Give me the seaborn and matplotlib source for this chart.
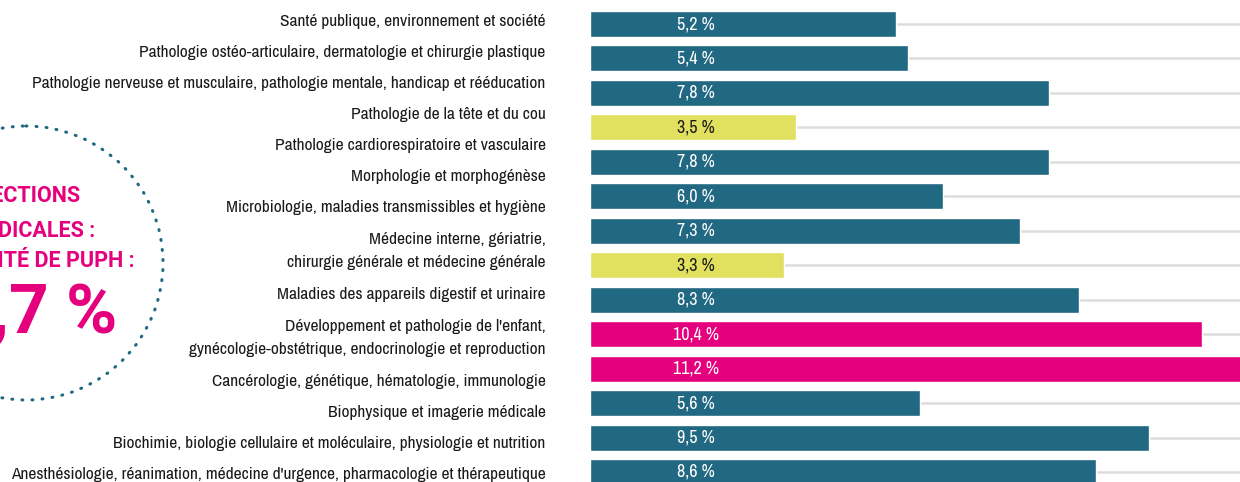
import matplotlib
matplotlib.use("Agg")
import matplotlib.pyplot as plt
import seaborn as sns
import pandas as pd
from matplotlib.patches import Circle
from matplotlib import font_manager as fm

sns.set_theme(style="white")
names = {f.name for f in fm.fontManager.ttflist}


def pick(cands):
    for c in cands:
        if c in names:
            return c
    return "DejaVu Sans"


NARROW = pick(["Liberation Sans Narrow", "Archivo Narrow", "Asap Condensed", "Barlow Semi Condensed"])
BOLDN = pick(["Roboto", "Liberation Sans", "DejaVu Sans"])
plt.rcParams['font.family'] = [NARROW, 'DejaVu Sans']

# ---- data ----
categories = [
    "Santé publique, environnement et société",
    "Pathologie ostéo-articulaire, dermatologie et chirurgie plastique",
    "Pathologie nerveuse et musculaire, pathologie mentale, handicap et rééducation",
    "Pathologie de la tête et du cou",
    "Pathologie cardiorespiratoire et vasculaire",
    "Morphologie et morphogénèse",
    "Microbiologie, maladies transmissibles et hygiène",
    "Médecine interne, gériatrie,\nchirurgie générale et médecine générale",
    "Maladies des appareils digestif et urinaire",
    "Développement et pathologie de l'enfant,\ngynécologie-obstétrique, endocrinologie et reproduction",
    "Cancérologie, génétique, hématologie, immunologie",
    "Biophysique et imagerie médicale",
    "Biochimie, biologie cellulaire et moléculaire, physiologie et nutrition",
    "Anesthésiologie, réanimation, médecine d'urgence, pharmacologie et thérapeutique",
]
values = [5.2, 5.4, 7.8, 3.5, 7.8, 6.0, 7.3, 3.3, 8.3, 10.4, 11.2, 5.6, 9.5, 8.6]
groups = ["mid", "mid", "mid", "low", "mid", "mid", "mid", "low", "mid", "high", "high", "mid", "mid", "mid"]
circle_lines = ["SECTIONS", "MÉDICALES :", "MOBILITÉ DE PUPH :"]
circle_value = "8,7 %"

palette = {"mid": "#216882", "low": "#e1e15f", "high": "#e5007d"}
text_col = {"mid": "white", "low": "#1a1a1a", "high": "white"}

df = pd.DataFrame({"cat": categories, "val": values, "grp": groups})

W, H = 1240, 482
fig = plt.figure(figsize=(W / 100, H / 100), dpi=100)
fig.patch.set_facecolor("white")

row_px = 34.46
top_px = 24 - row_px / 2
ax = fig.add_axes([590 / W, 0, 650 / W, 1 - top_px / H])
ax.patch.set_alpha(0)
sns.barplot(data=df, y="cat", x="val", hue="grp", palette=palette, dodge=False,
            width=0.755, orient="h", legend=False, ax=ax, zorder=3, saturation=1)
ax.set_xlim(0, 650 / 58.87)
ax.set_ylim(-0.5 + (H - top_px) / row_px, -0.5)

for i in range(len(categories)):
    ax.axhline(i, color="#dddddd", lw=1.8, zorder=1)

for s in ax.spines.values():
    s.set_visible(False)
ax.set_xticks([])
ax.set_xlabel("")
ax.set_ylabel("")

for i, (v, g) in enumerate(zip(values, groups)):
    ax.text(1.8, i, f"{v:.1f}".replace(".", ",") + " %", ha="center", va="center",
            color=text_col[g], fontsize=13, zorder=4)

# category labels: stacked text layout
gap = 31 / row_px
extra = 25 / row_px
pos = []
y = (20 - 24) / row_px
for c in categories:
    n = c.count("\n") + 1
    pos.append(y + (n - 1) * (extra / 2 - 4 / row_px))
    y += (n - 1) * extra + gap
ax.set_yticks(pos, categories)
ax.tick_params(axis="y", length=0, pad=32, labelsize=12.5, labelcolor="#1a1a1a")
for t in ax.get_yticklabels():
    t.set_linespacing(1.65)
    t.set_multialignment("right")

# left circle overlay
ov = fig.add_axes([0, 0, 1, 1], zorder=5)
ov.patch.set_alpha(0)
ov.set_xlim(0, W)
ov.set_ylim(H, 0)
ov.axis("off")
ov.add_patch(Circle((26, 263), 137, fill=False, edgecolor="#216882", lw=2.2,
                    linestyle=(0, (0.3, 3.0)), capstyle="round"))
for txt, yb, xr in zip(circle_lines, [202, 237, 267], [80, 95, 135]):
    ov.text(xr, yb, txt, ha="right", va="baseline", color="#e5007d",
            fontsize=15.5, fontweight="bold", family=[BOLDN, 'DejaVu Sans'])
ov.text(117, 333, circle_value, ha="right", va="baseline", color="#e5007d",
        fontsize=50, fontweight="bold", family=[BOLDN, 'DejaVu Sans'])

fig.savefig("out.png", dpi=100, facecolor="white")
